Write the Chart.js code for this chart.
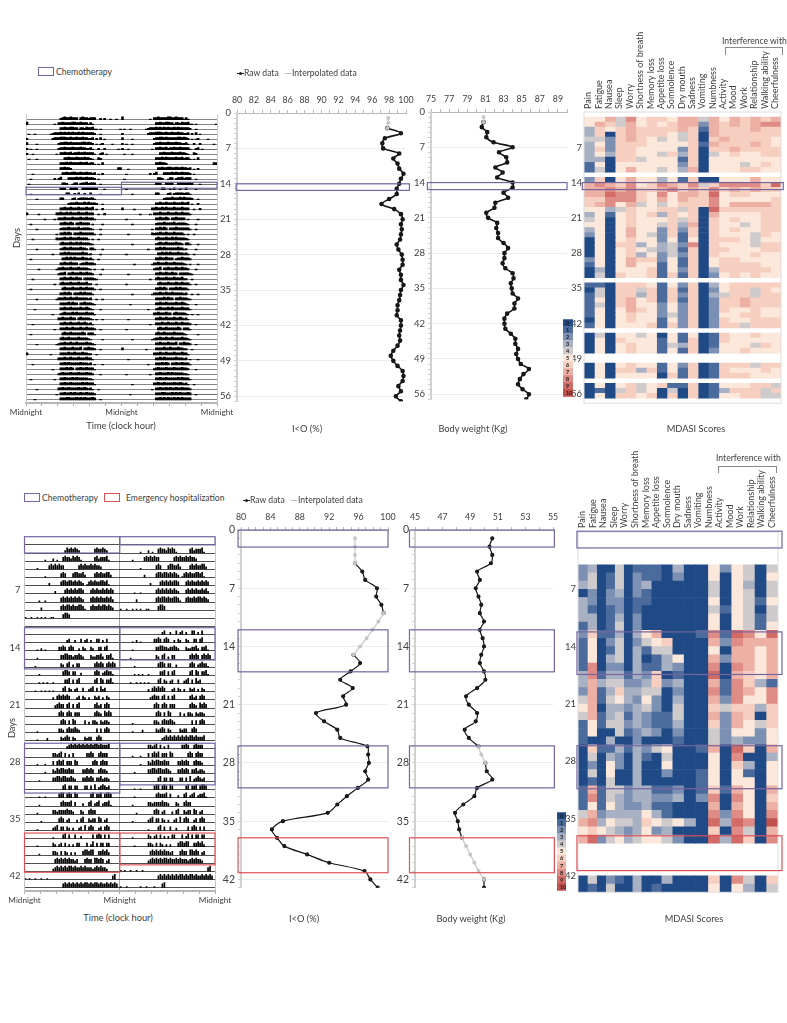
<!DOCTYPE html>
<html>
<head>
<meta charset="utf-8">
<title>Actigraphy, I<O, body weight and MDASI scores</title>
<script src="https://cdn.jsdelivr.net/npm/chart.js@4/dist/chart.umd.js"></script>
<style>
  body { margin: 0; background: #fff; }
  #page { position: relative; width: 787px; height: 1023px; overflow: hidden; font-family: Lato, sans-serif; color: #404040; }
  #page canvas { position: absolute; }
  .txt { position: absolute; font-size: 8.6px; line-height: 12px; white-space: nowrap; }
  .cap { transform: translate(-50%, -50%); font-size: 9.3px; }
  .swatch { position: absolute; border: 1px solid; box-sizing: border-box; }
  .lineKey { position: absolute; height: 0; border-top: 1px solid; }
  .dot { position: absolute; width: 3px; height: 3px; border-radius: 50%; background: #222; }
</style>
</head>
<body>
<div id="page"></div>
<script>
const symptoms = ["Pain","Fatigue","Nausea","Sleep","Worry","Shortness of breath","Memory loss","Appetite loss","Somnolence","Dry mouth","Sadness","Vomiting","Numbness","Activity","Mood","Work","Relationship","Walking ability","Cheerfulness"];
const scoreLevels = ["0","1","2","3","4","5","6","7","8","9","10"];
const scoreColors = ["#1f4a86","#4a6b9c","#7b90b2","#a8b0c4","#cfcbcc","#fce8db","#f6cfc1","#ecb0a4","#de8c85","#d26a66","#c0504d"];

// I<O (%) per day, top patient. null = no reading
const ioTopRaw = [null,null,null,97.8,99.4,97.5,97.2,97.3,99.2,98.5,99,99.2,99.7,99.4,99.2,98.9,98.9,98,97.1,98.6,99.4,99.6,99.4,99.5,99.4,99.3,98.9,99.1,99.5,99.6,99.6,99.2,99.4,99.4,99.7,99.4,99.3,99.2,99,99,98.9,99.4,99.4,99.3,99.2,99.3,99,98.5,98.2,98.5,99,99.6,99.7,99.6,99.1,99.4,98.8,99.4];
const ioTopInterp = [null,97.9,97.9,97.8];
const weightTopRaw = [null,null,80.8,80.6,81.2,81.1,81.9,84,82.5,83.3,83.4,82.1,82.9,82.3,84,84,83,83.5,82.1,82,81.1,81.3,82.3,82.2,82.4,82.4,83,83.5,83.1,83.1,82.9,83.2,84,84.1,83.8,83.9,84,84.6,84.2,84.2,83.4,83.1,83.1,83.2,83.8,84.3,84.3,84.6,84.4,84.6,84.9,85.8,85.2,84.8,84.6,85.1,85.8,85.5];
const weightTopInterp = [null,80.8,80.8];

// bottom patient
const ioBotRaw = [null,null,null,null,95.5,96.5,96.9,98.5,98.4,99.1,99.4,null,null,null,null,95.3,96.2,94.9,93.5,95.2,93.9,94.3,90.2,91.3,93.1,93.5,97.2,97.3,97.4,96.9,97.3,95.9,94.4,93.1,91.8,85.7,84.2,84.9,85.9,89,92,96.8,97.6,98.6];
const ioBotInterp = [null,95.5,95.5,95.5,95.5,null,null,null,null,null,99.4,98.7,97.9,97.1,96.2,95.3];
const weightBotRaw = [null,50.6,50.4,50.6,50.5,49.5,49.7,49.4,49.6,49.8,49.7,50,49.7,49.9,50,49.8,49.7,50,50.1,49.5,48.7,48.9,49.5,49.4,48.6,48.9,49.6,null,50.1,50.2,50.6,49.5,49.3,48.5,47.9,48.1,48.2,48.4,null,null,null,null,50,50];
const weightBotInterp = [null,null,null,null,null,null,null,null,null,null,null,null,null,null,null,null,null,null,null,null,null,null,null,null,null,null,49.6,49.8,50.1,null,null,null,null,null,null,null,null,48.4,48.7,49,49.3,49.6,50];

// MDASI scores: one string per day, one character per symptom (a = 10), "" = not answered
const mdasiTop = [
"","5574856657747576767","5764756567727676788","3656766667617666766","3606766654607666666",
"4426765454606766665","3526665555617666765","3626655552606676666","3536655463604565566","3306645551605555555",
"1505555552605554565","1405755453705556655","","2605755351600555755","7876856876846888869",
"7787866786768676766","7798865857769566555","6688865757668555556","6785745456668577776","5534655664609666666",
"3515656365607555566","4505655564606565566","5505655463706554566","3505755262606565566","2505754261606555465",
"0505655251506665455","0506635342806555466","0505654341606655566","0505635242606555655","2505766251605665555",
"1505755151605666655","0305556152603666665","0406556161602565655","","1106665152603566666",
"0406646161602566465","1406636162603466466","1506756161602667666","1406755252602667666","1505765252602655655",
"1505655242602556655","0505655152602655666","1505556162602664666","","0405545051501655655",
"0506555151601655555","0505655143601555465","0505655151602556555","","",
"0505655152601666466","0506636151601655565","0505555061601666555","","0505645611601555664",
"0104645040601366646","0506656060601556644",""];

const mdasiBot = [
"","","","","2300401110300525404",
"2401402110200505405","3401402300000405304","0202302100000405404","3202201100000505415","3101201000000415404",
"3301302000000505414","1301402000000505415","2611303570001819859","1502402456000728777","1501403144000507757",
"1503403013500727757","1802203113200808757","3813313260100907657","3734422362300718631","2713633440200818758",
"4714532520300728558","5703323420400646636","4713413211400727606","1514423211300627546","1500412320200425525",
"1003002000100423225","0611313245001709607","0403203104000508003","0205203005000506305","0405003002001505105",
"0104003000001505505","1714423311201617507","1814323322302808506","1515322311000707507","4723333531000828508",
"783544365453093980a","5654323523000608407","7924534554200939608","","",
"","","0402103003000608406","0104003010000505304"];

// relative column widths of the lower MDASI grid (the source grid is uneven)
const colWidthsTop = symptoms.map(() => 1);
const colWidthsBot = [28,28,27,27,27,26,27,30,30,33,34,36,37,35,35,35,35,35,36];

// actigraphy: one string per day, one digit per half hour of that day
const actTop = [
"00000000 00000000 02343343 33034332 33300202 00100100",
"40000000 00000010 33433334 43343331 31000000 00000000",
"00000000 00000000 03343344 33133243 34110100 00000001",
"01001000 00001233 34343434 33434333 33200100 00000000",
"20000000 00000233 34443343 34334332 23020301 00000000",
"30000100 00000000 23344343 33334434 32010120 00010000",
"20100100 00000000 23343334 33343322 31002002 00000010",
"20010000 00000001 03343342 33433433 33100230 10000000",
"01000100 00000000 00033433 34333433 21003200 00000000",
"00000000 00000000 03334343 33343342 33101030 00000000",
"00000000 00000000 03343320 00000000 00000000 00000033",
"00010000 00000000 00334334 43343343 32301020 00000000",
"00100000 00000020 24000333 34343343 33201000 00000000",
"01000000 00000000 00332001 33023342 33300100 00000000",
"00000000 00000000 03320033 33003333 33320001 00000000",
"00100000 00000000 00003300 20300200 30000100 00000000",
"00000100 00000000 03300002 30233332 33100000 00000000",
"00000000 00000000 00000233 34333434 33320010 00000000",
"00000000 00000000 03343343 33433343 34010020 00000000",
"30000010 00000003 34334343 33433343 33001002 00000000",
"00000000 01000010 33343334 33343343 33100000 00000000",
"00100000 00000000 03343343 03343333 01000010 00000000",
"00000100 00000000 02333433 33423333 21000100 00000000",
"00000000 00000001 03343430 33343333 33100100 00000000",
"00010000 00000003 23343343 33433331 01001000 00000000",
"00000000 00000000 03433343 34343333 21000000 00000000",
"00000100 00000000 02343343 33343320 33100010 00000000",
"00000000 00000100 03343433 33334331 20000100 00000000",
"00100000 00000000 00334343 43334332 31001000 00000000",
"00000000 00000000 03343343 33023343 33200000 00000000",
"00000010 00000001 33433343 33433332 10100010 00000000",
"00000000 00000000 23340334 33343343 32000100 00000000",
"00010000 00000000 03343343 34330333 33210000 00000000",
"00000000 00000010 03433343 33433342 20010000 00000000",
"00100000 00000000 00343334 33343343 33100100 00000000",
"00000000 00000000 03343430 33343433 31000000 00000000",
"00000100 00000001 33343343 34333332 30010010 00000000",
"00000000 00000000 03333434 33033433 32100000 00000000",
"00001000 00000000 03343343 33343343 21000100 00000000",
"00000000 00000100 02343334 34333343 33100000 00000000",
"00000000 00000000 33433343 30343333 21010010 00000000",
"00010000 00000000 03343343 33433432 31000000 00000000",
"00000000 00000010 03334334 33343343 33200100 00000000",
"00100000 00000000 00343343 33334303 33100000 00000000",
"00000000 00000000 03433433 33433332 10000010 00000000",
"00000100 00000001 23343343 34333343 32100000 00000000",
"00000000 00000000 03343334 33340334 33200100 00000000",
"30000000 00001000 03333433 43334332 20010000 00000000",
"00000000 00000000 33343343 33433343 31000000 00000000",
"00010000 00000000 03343433 33343332 30100010 00000000",
"00000000 00000100 03334343 03343343 33100000 00000000",
"00000000 00000000 23433343 33433343 32000100 00000000",
"00100000 00000010 03343334 34333332 21000000 00000000",
"00000000 00000000 03343343 33334343 33100000 00000000",
"00000100 00000000 33433433 33433432 31001000 00000000",
"00000000 00000001 03343343 43343343 33200000 00000000",
"00001000 00000000 03334433 34343433 34300100 00000000",
"00000000 00000000 03343434 33434343 33300000 00000000",
"00000000 00000000 02343343 34334333 30000000 00000000"];

const actBot = [
"",
"00000000 00000000 00002434 34320000 00034334 32000000",
"00000000 00100020 10034332 43431000 00034233 34100000",
"00000010 00003434 34330000 00034343 34343320 00000000",
"00000000 00100000 00343000 34433420 00034343 34420000",
"00000000 00002000 00344344 34343201 34343344 34100000",
"00000000 00000002 00003434 34344300 03434334 34343000",
"00000001 00100000 00343434 34343200 03434343 34342000",
"00000000 20000000 00343443 43344310 03433434 43432000",
"10010010 10100110 00034430 00000000 00000000 00000000",
"",
"",
"00000000 00000000 00000230 02003023 02003302 03000000",
"00000010 20100000 03343034 30020320 03200330 34000000",
"00000010 00000000 00334433 23343200 03223342 03341000",
"00000100 00000000 00320340 20330000 00034343 03434300",
"00000001 00000000 00034430 33002000 00034302 34331000",
"00000001 01010010 00003340 30340000 00034043 03341000",
"00000100 10101010 00034032 02300300 23403042 30000000",
"00000000 00000020 34343430 00230320 20032302 03200000",
"00000000 00000002 34330340 30340000 00034230 34300000",
"00000000 00000000 03430343 03330000 00034320 43430000",
"00000000 00000000 00343030 43000030 20332032 33200000",
"00000010 00000000 03320343 34320000 00003030 34300000",
"00000010 00020000 00323430 32000032 33003430 00000000",
"00000000 00000000 00000234 34343434 34344343 33400000",
"00000000 00000033 23403020 30000003 34300343 33000000",
"00000010 00100030 34340333 04300000 00343034 33000000",
"00000000 00100032 43443343 30000334 34300343 32000000",
"00000001 00000033 44344334 32000334 34303342 33200000",
"00000000 00000000 00034033 03300033 03040234 32300000",
"00000001 00100000 03440343 04300000 03403340 34430000",
"00000001 00000000 00343334 03000200 34023402 33410000",
"00000010 00000033 23333433 20003200 34330000 00000000",
"00000000 10000000 03430230 00203400 32330430 23000000",
"00000010 00000023 40330320 20023040 34300230 34300000",
"00000000 00000010 00034030 03002000 00303430 30300000",
"00000010 00000032 02303020 20330003 02403033 03300000",
"00000001 00000033 20303202 02000344 34400334 34200000",
"00000000 00000003 43434343 32300034 33044343 02300000",
"00000000 00000023 43434344 34334343 33234343 32000000",
"10100100 10010000 00000000 00000000 00000000 00003400",
"00000000 00000000 00034343 43434344 34344343 34343430",
"10010000 00100100 01000340 00000000 00000000 00000000"];
const actBotHiddenRight = [0];   // first row shows nothing in its right half

const dayLabels = [7,14,21,28,35,42,49,56];
const dayLabelsBot = [7,14,21,28,35,42];

const PURPLE = "#76659f", RED = "#dd5258", TXT = "#404040";
const page = document.getElementById("page");

Chart.defaults.animation = false;
Chart.defaults.responsive = false;
Chart.defaults.font.family = "Lato, sans-serif";
Chart.defaults.color = TXT;
Chart.defaults.plugins.legend.display = false;
Chart.defaults.plugins.tooltip.enabled = false;

// outlines of treatment periods, given in the chart's own scale units
Chart.register({
  id: "boxes",
  afterDatasetsDraw(chart, args, opts) {
    const ctx = chart.ctx, xs = chart.scales.x, ys = chart.scales.y, a = chart.chartArea;
    ctx.save();
    if (opts.frame) {
      ctx.strokeStyle = opts.frame;
      ctx.lineWidth = 1;
      ctx.strokeRect(a.left, a.top, a.right - a.left, a.bottom - a.top);
    }
    (opts.list || []).forEach(b => {
      ctx.strokeStyle = b.color;
      ctx.lineWidth = 1.2;
      const x0 = xs.getPixelForValue(b.x0), x1 = xs.getPixelForValue(b.x1);
      const y0 = ys.getPixelForValue(b.y0), y1 = ys.getPixelForValue(b.y1);
      ctx.strokeRect(x0, y0, x1 - x0, y1 - y0);
    });
    ctx.restore();
  }
});

function addChart(box, m, xTop, config) {
  const c = document.createElement("canvas");
  const w = box.r - box.l + m.l + m.r, h = box.b - box.t + m.t + m.b;
  c.width = Math.round(w);
  c.height = Math.round(h);
  c.style.left = (box.l - m.l) + "px";
  c.style.top = (box.t - m.t) + "px";
  page.appendChild(c);
  config.options.layout = { padding: xTop
    ? { left: 0, top: 0, right: m.r, bottom: m.b }
    : { left: 0, top: m.t, right: m.r, bottom: 0 } };
  config.options.scales.x.afterFit = s => { s.height = xTop ? m.t : m.b; };
  config.options.scales.y.afterFit = s => { s.width = m.l; };
  return new Chart(c, config);
}

function addText(str, x, y, cls, extra) {
  const d = document.createElement("div");
  d.className = "txt " + (cls || "");
  d.textContent = str;
  d.style.left = x + "px";
  d.style.top = y + "px";
  if (extra) d.style.cssText += extra;
  page.appendChild(d);
}

// double plot: each row shows one day on the left and the next day on the right
function actogramBars(days, rows, maxH, hiddenRight) {
  const clean = days.map(s => s.replace(/ /g, ""));
  const pts = [];
  for (let r = 0; r < rows; r++) {
    const base = r + 1;
    [...clean[r]].forEach((ch, i) => {
      if (ch !== "0") pts.push({ x: i / 2 + 0.25, y: [base - ch / 4 * maxH, base] });
    });
    if (hiddenRight.includes(r)) continue;
    [...(clean[r + 1] || "")].forEach((ch, i) => {
      if (ch !== "0") pts.push({ x: 24 + i / 2 + 0.25, y: [base - ch / 4 * maxH, base] });
    });
  }
  return pts;
}

function actogram(box, days, rows, yMax, maxH, barPct, labels, labelOff, hiddenRight, boxes, midColor, fontY, rowColor) {
  const rowTicks = [];
  for (let k = 1; k <= rows; k++) rowTicks.push(k);
  const labelTicks = labels.map(d => d + labelOff);
  addChart(box, { l: box.l, t: 4, r: 22, b: 18 }, false, {
    type: "bar",
    data: { datasets: [{
      data: actogramBars(days, rows, maxH, hiddenRight),
      backgroundColor: "#000",
      barPercentage: barPct, categoryPercentage: 1, grouped: false, borderWidth: 0
    }] },
    options: {
      scales: {
        x: {
          type: "linear", min: 0, max: 48, offset: false,
          border: { color: "#b5b5b5", width: 2 },
          grid: {
            offset: false,
            color: ctx => ctx.tick && ctx.tick.value === 24 ? midColor : (ctx.tick && (ctx.tick.value === 0 || ctx.tick.value === 48) ? "#c8c8c8" : "rgba(0,0,0,0)"),
            tickColor: "#b0b0b0", tickLength: 3
          },
          ticks: { stepSize: 4, autoSkip: false, maxRotation: 0, padding: 1, font: { size: 8.2 },
            callback: v => v % 24 === 0 ? "Midnight" : "" }
        },
        y: {
          type: "linear", reverse: true, min: 0, max: yMax,
          afterBuildTicks: s => { s.ticks = rowTicks.concat(labelTicks).map(v => ({ value: v })); },
          border: { color: "#c8c8c8" },
          grid: {
            color: ctx => ctx.tick && Number.isInteger(ctx.tick.value) ? rowColor : "rgba(0,0,0,0)",
            lineWidth: 0.8, drawTicks: false
          },
          ticks: { autoSkip: false, padding: 4, font: { size: fontY },
            callback: v => Number.isInteger(v) ? "" : Math.round(v - labelOff) }
        }
      },
      plugins: { boxes: { list: boxes } }
    }
  });
}

function linePanel(box, xMin, xMax, labelStep, days, raw, interp, boxes, lineW, fontY) {
  const toPts = arr => arr.map((v, i) => ({ x: v, y: i }));
  addChart(box, { l: 24, t: 26, r: 14, b: 8 }, true, {
    type: "scatter",
    data: { datasets: [
      { data: toPts(interp), showLine: true, tension: 0.3, borderColor: "#c6c6c6", backgroundColor: "#c6c6c6", borderWidth: 1.2, pointRadius: 1.4 },
      { data: toPts(raw), showLine: true, tension: 0.3, borderColor: "#151515", backgroundColor: "#222", borderWidth: lineW, pointRadius: 1.5 }
    ] },
    options: {
      scales: {
        x: {
          type: "linear", position: "top", min: xMin, max: xMax,
          border: { color: "#b8b8b8" },
          grid: { drawOnChartArea: false, tickColor: "#b8b8b8", tickLength: 3 },
          ticks: { stepSize: 1, autoSkip: false, maxRotation: 0, padding: 5, font: { size: 8.8 },
            callback: v => (v - xMin) % labelStep === 0 ? v : "" }
        },
        y: {
          type: "linear", reverse: true, min: 0, max: days,
          border: { color: "#d0d0d0", width: 2 },
          grid: { color: ctx => ctx.tick && ctx.tick.value % 7 === 0 ? "#ececec" : "rgba(0,0,0,0)", tickColor: "#cfcfcf", tickLength: 3 },
          ticks: { stepSize: 1, autoSkip: false, padding: 3, font: { size: fontY },
            callback: v => v % 7 === 0 ? v : "" }
        }
      },
      plugins: { boxes: { list: boxes } }
    }
  });
}

function heatmap(box, rows, widths, boxes, labelOffset, fontY, topGap) {
  const total = widths.reduce((a, b) => a + b, 0);
  let run = 0;
  const edges = [0].concat(widths.map(w => (run += w) * symptoms.length / total));
  const datasets = symptoms.map((name, c) => ({
    label: name,
    data: rows.map(r => r ? [edges[c], edges[c + 1]] : null),
    backgroundColor: rows.map(r => r ? scoreColors[parseInt(r[c], 11)] : "rgba(0,0,0,0)"),
    barPercentage: 1, categoryPercentage: 1, grouped: false, borderWidth: 0
  }));
  addChart(box, { l: 24, t: 104, r: 6, b: 4 }, true, {
    type: "bar",
    data: { labels: rows.map((r, i) => String(i)), datasets },
    options: {
      indexAxis: "y",
      scales: {
        x: {
          type: "linear", position: "top", min: 0, max: symptoms.length,
          afterBuildTicks: s => { s.ticks = symptoms.map((n, i) => ({ value: i + 0.5 })); },
          border: { display: false },
          grid: { display: false, drawTicks: false },
          ticks: { autoSkip: false, minRotation: 90, maxRotation: 90, padding: topGap, labelOffset: 10, font: { size: 9 },
            callback: (v, i) => symptoms[i] }
        },
        y: {
          type: "category",
          border: { display: false },
          grid: { display: false, drawTicks: false },
          ticks: { autoSkip: false, padding: 2, labelOffset, font: { size: fontY },
            callback: (v, i) => i > 0 && i % 7 === 0 ? String(i) : "" }
        }
      },
      plugins: { boxes: { list: boxes, frame: "#dedede" } }
    }
  });
}

function scoreBar(box) {
  addChart(box, { l: 0, t: 0, r: 0, b: 0 }, true, {
    type: "bar",
    data: { labels: scoreLevels, datasets: [{
      data: scoreLevels.map(() => 1),
      backgroundColor: scoreColors,
      barPercentage: 1, categoryPercentage: 1, borderWidth: 0
    }] },
    options: {
      indexAxis: "y",
      scales: {
        x: { type: "linear", display: false, min: 0, max: 1 },
        y: {
          border: { display: false },
          grid: { display: false, drawTicks: false },
          ticks: { mirror: true, z: 1, padding: 3, autoSkip: false, color: "#1a1a1a", font: { size: 5.5, weight: "bold" } }
        }
      }
    }
  });
}

/* ---------- top patient ---------- */
actogram({ l: 26, t: 109, r: 217, b: 403 }, actTop, 57, 57.6, 0.55, 1, dayLabels, 0, [], [
  { x0: 0, x1: 24, y0: 14.5, y1: 16, color: PURPLE },
  { x0: 24, x1: 48, y0: 13.5, y1: 14.7, color: PURPLE }
], "rgba(0,0,0,0)", 9.5, "#666");
linePanel({ l: 236.5, t: 112.7, r: 405, b: 401.7 }, 80, 100, 2, 57, ioTopRaw, ioTopInterp,
  [{ x0: 79.9, x1: 100.4, y0: 14, y1: 15.3, color: PURPLE }], 1.6, 9.5);
linePanel({ l: 431, t: 111.7, r: 567, b: 399.6 }, 75, 90, 2, 57, weightTopRaw, weightTopInterp,
  [{ x0: 74.6, x1: 90, y0: 14, y1: 15.4, color: PURPLE }], 1.6, 9.5);
heatmap({ l: 584.3, t: 111.5, r: 781.7, b: 406.7 }, mdasiTop, colWidthsTop,
  [{ x0: -0.16, x1: 19.22, y0: 13.55, y1: 14.95, color: PURPLE }], -2, 9.5, 3);
scoreBar({ l: 563, t: 313, r: 573, b: 403 });

/* ---------- bottom patient ---------- */
actogram({ l: 24.5, t: 530.7, r: 215, b: 891 }, actBot, 43, 43.4, 0.68, 0.85, dayLabelsBot, -0.42, actBotHiddenRight, [
  { x0: 0, x1: 24, y0: 0, y1: 2, color: PURPLE },
  { x0: 24, x1: 48, y0: 0, y1: 1, color: PURPLE },
  { x0: 0, x1: 24, y0: 11.15, y1: 16.2, color: PURPLE },
  { x0: 24, x1: 48, y0: 11.15, y1: 15.1, color: PURPLE },
  { x0: 0, x1: 24, y0: 25.3, y1: 31.4, color: PURPLE },
  { x0: 24, x1: 48, y0: 25.3, y1: 30.4, color: PURPLE },
  { x0: 0, x1: 24, y0: 36.3, y1: 41.1, color: RED },
  { x0: 24, x1: 48, y0: 36.3, y1: 40.2, color: RED }
], "#e58a8e", 9.5, "#222");
const panelBoxesBot = (x0, x1) => [
  { x0, x1, y0: 0, y1: 2.05, color: PURPLE },
  { x0, x1, y0: 12, y1: 17.05, color: PURPLE },
  { x0, x1, y0: 25.95, y1: 31, color: PURPLE },
  { x0, x1, y0: 37, y1: 41.2, color: RED }
];
linePanel({ l: 240.7, t: 530, r: 388, b: 889 }, 80, 100, 4, 43, ioBotRaw, ioBotInterp, panelBoxesBot(79.6, 100), 1.2, 10.5);
linePanel({ l: 415, t: 530, r: 553.3, b: 889 }, 45, 55, 2, 43, weightBotRaw, weightBotInterp, panelBoxesBot(44.6, 55.1), 1.2, 10.5);
heatmap({ l: 578.3, t: 531.9, r: 778.7, b: 896 }, mdasiBot, colWidthsBot, [
  { x0: -0.1, x1: 19.38, y0: -0.6, y1: 1.45, color: PURPLE },
  { x0: -0.1, x1: 19.38, y0: 11.7, y1: 16.9, color: PURPLE },
  { x0: -0.1, x1: 19.38, y0: 25.6, y1: 30.85, color: PURPLE },
  { x0: -0.1, x1: 19.38, y0: 36.6, y1: 40.85, color: RED }
], -4, 9.5, 4);
scoreBar({ l: 557, t: 806, r: 566, b: 897 });

/* ---------- free text and keys ---------- */
[[121, 426, "Time (clock hour)"], [307, 429, "I<O (%)"], [473, 429, "Body weight (Kg)"], [696, 429, "MDASI Scores"],
 [118, 918, "Time (clock hour)"], [304, 919, "I<O (%)"], [471, 919, "Body weight (Kg)"], [694, 919, "MDASI Scores"]]
  .forEach(t => addText(t[2], t[0], t[1], "cap"));
addText("Days", 17, 238, "cap", "transform:translate(-50%,-50%) rotate(-90deg);");
addText("Days", 12, 728, "cap", "transform:translate(-50%,-50%) rotate(-90deg);");

function swatch(x, y, w, h, color) {
  const d = document.createElement("div");
  d.className = "swatch";
  d.style.cssText += `left:${x}px;top:${y}px;width:${w}px;height:${h}px;border-color:${color};`;
  page.appendChild(d);
}
swatch(38, 67, 16, 9, PURPLE);
addText("Chemotherapy", 56, 66);
swatch(24, 493, 16, 9, PURPLE);
addText("Chemotherapy", 42, 492);
swatch(104, 493, 16, 9, RED);
addText("Emergency hospitalization", 126, 492);

function lineKey(x, y) {
  const d = document.createElement("div");
  d.className = "lineKey";
  d.style.cssText += `left:${x}px;top:${y}px;width:7px;border-color:#222;`;
  page.appendChild(d);
  const p = document.createElement("div");
  p.className = "dot";
  p.style.cssText += `left:${x + 2}px;top:${y - 1}px;`;
  page.appendChild(p);
  const g = document.createElement("div");
  g.className = "lineKey";
  g.style.cssText += `left:${x + 48}px;top:${y}px;width:6px;border-color:#bbb;`;
  page.appendChild(g);
  addText("Raw data", x + 7, y - 6);
  addText("Interpolated data", x + 55, y - 6);
}
lineKey(237, 73);
lineKey(243, 500);

function bracket(x0, x1, y0, y1, textX, textY) {
  const d = document.createElement("div");
  d.style.cssText = `position:absolute;left:${x0}px;top:${y0}px;width:${x1 - x0}px;height:${y1 - y0}px;border:1px solid #8a8a8a;border-bottom:none;box-sizing:border-box;`;
  page.appendChild(d);
  addText("Interference with", textX, textY);
}
bracket(725, 783, 47, 55, 722, 35);
bracket(718, 777, 466, 473, 716, 452);
</script>
</body>
</html>
